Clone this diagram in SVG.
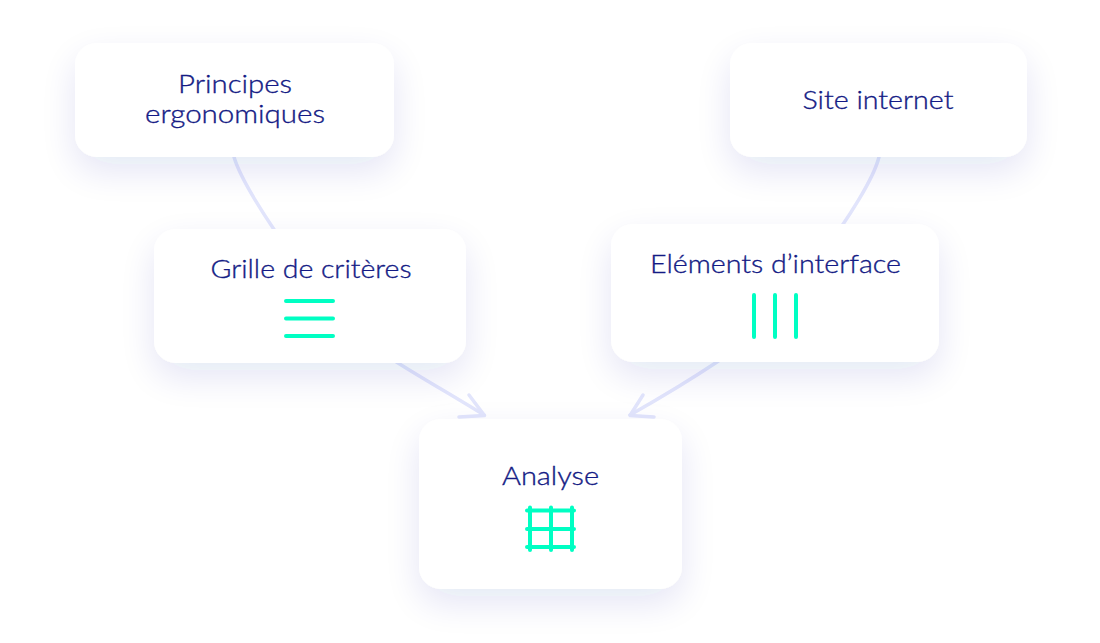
<svg xmlns="http://www.w3.org/2000/svg" width="1100" height="643" viewBox="0 0 1100 643">
<defs>
<filter id="sh" filterUnits="userSpaceOnUse" x="0" y="0" width="1100" height="643"><feGaussianBlur in="SourceAlpha" stdDeviation="18"/><feOffset dy="14"/><feComponentTransfer result="b"><feFuncA type="linear" slope="0.11"/></feComponentTransfer><feFlood flood-color="#2a2f9e"/><feComposite in2="b" operator="in"/><feMerge><feMergeNode/><feMergeNode in="SourceGraphic"/></feMerge></filter>
</defs>
<style>
.card{fill:#fff;filter:url(#sh)}
.t{font-family:"Lato","Open Sans",sans-serif;font-weight:300;font-size:25px;fill:#141b85;stroke:#141b85;stroke-width:.35;text-anchor:middle}
.c{fill:none;stroke:#e2e5fc;stroke-width:3.5;stroke-linecap:round;stroke-linejoin:round}
.i{fill:none;stroke:#00ffc3;stroke-width:4;stroke-linecap:round}
</style>
<rect width="1100" height="643" fill="#fff"/>
<g id="connectors">
<path class="c" d="M234 157C246 198 335 325 398 363C425 380 455 397 484 415"/>
<path class="c" d="M469 395L484.500 415.500L459 417"/>
<path class="c" d="M879 157C869 198 780 320 717 362C690 380 660 398 630 415"/>
<path class="c" d="M643 395L630 415.500L654 417"/>
</g>
<g id="principes"><rect class="card" x="75" y="43" width="319" height="114" rx="22"/>
<text class="t" x="235" y="93" textLength="114" lengthAdjust="spacingAndGlyphs">Principes</text>
<text class="t" x="235" y="123" textLength="180" lengthAdjust="spacingAndGlyphs">ergonomiques</text></g>
<g id="site"><rect class="card" x="730" y="43" width="297" height="114" rx="22"/>
<text class="t" x="878" y="109" textLength="151" lengthAdjust="spacingAndGlyphs">Site internet</text></g>
<g id="grille"><rect class="card" x="154" y="229" width="312" height="134" rx="22"/>
<text class="t" x="311" y="278" textLength="201" lengthAdjust="spacingAndGlyphs">Grille de critères</text>
<path class="i" d="M286 301H333M286 318.500H333M286 336H333"/></g>
<g id="elements"><rect class="card" x="611" y="224" width="328" height="138" rx="22"/>
<text class="t" x="775.500" y="273" textLength="251" lengthAdjust="spacingAndGlyphs">Eléments d’interface</text>
<path class="i" d="M754 295V337M775 295V337M796 295V337"/></g>
<g id="analyse"><rect class="card" x="419" y="419" width="263" height="170" rx="22"/>
<text class="t" x="550.500" y="485" textLength="97" lengthAdjust="spacingAndGlyphs">Analyse</text>
<path class="i" d="M527 510.500H574M527 529H574M527 547H574M530 507.500V550M551 507.500V550M572 507.500V550"/></g>
</svg>
